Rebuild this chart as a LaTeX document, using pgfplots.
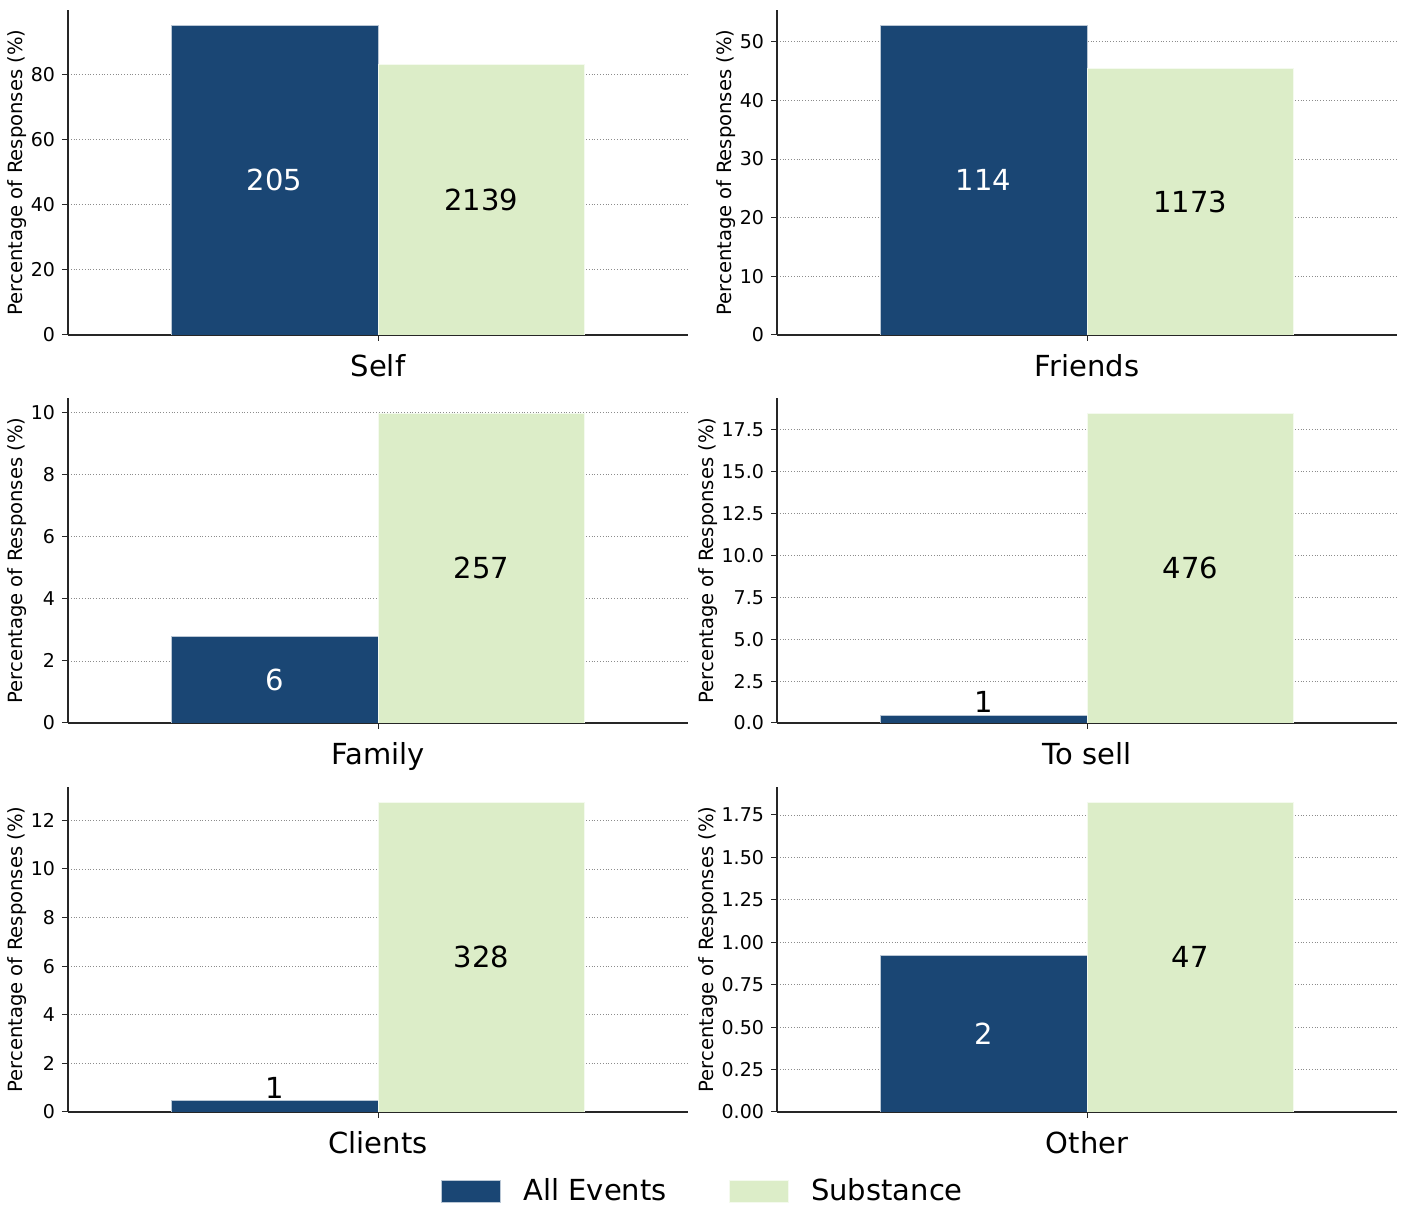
\documentclass[border=0pt]{standalone}
\usepackage{fontspec}
\setmainfont{DejaVu Sans}
\usepackage{pgfplots}
\pgfplotsset{compat=1.18}
\definecolor{ae}{HTML}{1A4674}
\definecolor{sub}{HTML}{DCEDC8}
\pgfplotsset{
  panel/.style={
    scale only axis, width=310pt, height=162.5pt,
    xmin=-0.6, xmax=0.6, ymin=0,
    axis x line*=bottom, axis y line*=left,
    axis line style={line width=0.6pt, black!85, -},
    xtick={0},
    tick style={black!85, line width=0.5pt},
    major tick length=3pt,
    tick align=outside,
    ymajorgrids, grid style={densely dotted, black!45, line width=0.4pt},
    ylabel={Percentage of Responses (\%)},
    ylabel shift=-5pt,
    ylabel style={font=\fontsize{9.8}{11}\selectfont},
    yticklabel style={font=\fontsize{9.5}{11}\selectfont},
    xticklabel style={font=\fontsize{14.5}{17}\selectfont, yshift=-3pt},
    /pgf/number format/assume math mode=true,
    ybar, bar width=0.4, bar shift=0pt,
    legend image code/.code={\fill[#1] (0pt,-5.5pt) rectangle (29.5pt,5.5pt);
      \path[draw=none, fill=none] (0pt,0pt) rectangle (39pt,0pt);},
  },
  aebar/.style={fill=ae, draw=white!70!ae, line width=0.3pt},
  subbar/.style={fill=sub, draw=white!70!sub, line width=0.3pt},
}
\begin{document}
\begin{tikzpicture}
\useasboundingbox (0,0) rectangle (702pt,602.5pt);
% Self
\begin{axis}[panel, at={(34pt,435pt)}, anchor=south west, ymax=99.66,
  ytick={0,20,40,60,80}, xticklabels={Self}]
\addplot[aebar] coordinates {(-0.2,94.91)};
\addplot[subbar] coordinates {(0.2,83.00)};
\node[font=\fontsize{14.5}{17}\selectfont, text=white] at (axis cs:-0.2,47.45) {205};
\node[font=\fontsize{14.5}{17}\selectfont, text=black] at (axis cs:0.2,41.50) {2139};
\end{axis}
% Friends
\begin{axis}[panel, at={(388.5pt,435pt)}, anchor=south west, ymax=55.42,
  ytick={0,10,20,30,40,50}, xticklabels={Friends}]
\addplot[aebar] coordinates {(-0.2,52.78)};
\addplot[subbar] coordinates {(0.2,45.52)};
\node[font=\fontsize{14.5}{17}\selectfont, text=white] at (axis cs:-0.2,26.39) {114};
\node[font=\fontsize{14.5}{17}\selectfont, text=black] at (axis cs:0.2,22.76) {1173};
\end{axis}
% Family
\begin{axis}[panel, at={(34pt,241pt)}, anchor=south west, ymax=10.47,
  ytick={0,2,4,6,8,10}, xticklabels={Family}]
\addplot[aebar] coordinates {(-0.2,2.78)};
\addplot[subbar] coordinates {(0.2,9.97)};
\node[font=\fontsize{14.5}{17}\selectfont, text=white] at (axis cs:-0.2,1.39) {6};
\node[font=\fontsize{14.5}{17}\selectfont, text=black] at (axis cs:0.2,4.99) {257};
\end{axis}
% To sell
\begin{axis}[panel, at={(388.5pt,241pt)}, anchor=south west, ymax=19.39,
  ytick={0,2.5,5,7.5,10,12.5,15,17.5}, xticklabels={To sell},
  yticklabel style={/pgf/number format/.cd, fixed, fixed zerofill, precision=1}]
\addplot[aebar] coordinates {(-0.2,0.463)};
\addplot[subbar] coordinates {(0.2,18.47)};
\node[font=\fontsize{14.5}{17}\selectfont, text=black, anchor=south, inner sep=1pt] at (axis cs:-0.2,0.463) {1};
\node[font=\fontsize{14.5}{17}\selectfont, text=black] at (axis cs:0.2,9.24) {476};
\end{axis}
% Clients
\begin{axis}[panel, at={(34pt,46.5pt)}, anchor=south west, ymax=13.37,
  ytick={0,2,4,6,8,10,12}, xticklabels={Clients},
  legend style={at={(axis description cs:1.0258,-0.243)}, anchor=center, draw=none,
    fill=none, inner sep=0pt,
    font=\fontsize{14.5}{17}\selectfont, legend columns=2,
    /tikz/every even column/.append style={column sep=29pt},
    /tikz/every odd column/.append style={column sep=0pt},
    legend cell align=left}]
\addplot[aebar] coordinates {(-0.2,0.463)};
\addlegendentry{All Events}
\addplot[subbar] coordinates {(0.2,12.73)};
\addlegendentry{Substance}
\node[font=\fontsize{14.5}{17}\selectfont, text=black, anchor=south, inner sep=1pt] at (axis cs:-0.2,0.463) {1};
\node[font=\fontsize{14.5}{17}\selectfont, text=black] at (axis cs:0.2,6.37) {328};
\end{axis}
% Other
\begin{axis}[panel, at={(388.5pt,46.5pt)}, anchor=south west, ymax=1.915,
  ytick={0,0.25,0.5,0.75,1,1.25,1.5,1.75}, xticklabels={Other},
  yticklabel style={/pgf/number format/.cd, fixed, fixed zerofill, precision=2}]
\addplot[aebar] coordinates {(-0.2,0.926)};
\addplot[subbar] coordinates {(0.2,1.824)};
\node[font=\fontsize{14.5}{17}\selectfont, text=white] at (axis cs:-0.2,0.463) {2};
\node[font=\fontsize{14.5}{17}\selectfont, text=black] at (axis cs:0.2,0.912) {47};
\end{axis}
\end{tikzpicture}
\end{document}
